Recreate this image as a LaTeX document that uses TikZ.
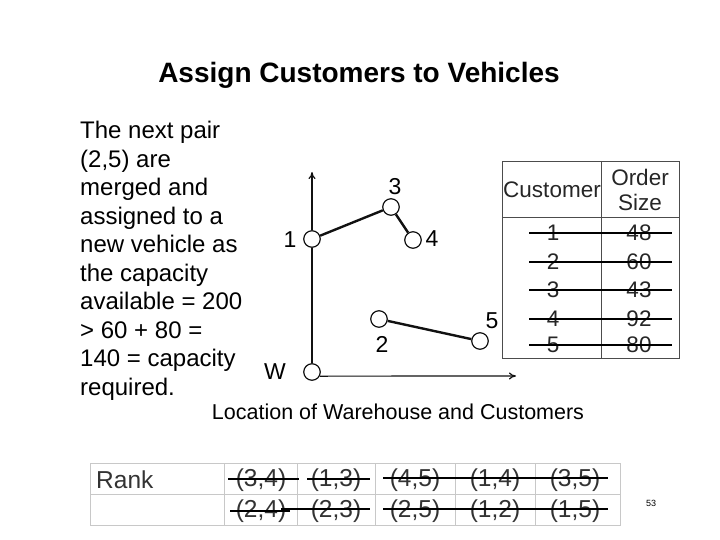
\documentclass[tikz,border=0pt]{standalone}
\usepackage{fontspec}
\setmainfont{Liberation Sans}
\usetikzlibrary{arrows.meta}
\definecolor{gridgray}{HTML}{C8C8C8}
\definecolor{ink}{HTML}{111111}

\begin{document}
\begin{tikzpicture}[
    x=1pt,y=-1pt,
    >={To[length=7pt,width=7pt]},
    body/.style={font=\fontsize{24}{28.5}\selectfont,align=left,
      anchor=north west,inner sep=0pt},
    site/.style={circle,draw=ink,line width=1.2pt,fill=white,
      minimum size=16.5pt,inner sep=0pt},
    num/.style={font=\fontsize{23}{23}\selectfont,inner sep=0pt},
    route/.style={line width=2.4pt,draw=ink},
    axis/.style={->,line width=1.2pt,draw=ink},
    cell/.style={font=\fontsize{22.5}{22.5}\selectfont,inner sep=0pt,text=black!85},
    pair/.style={font=\fontsize{24.5}{24.5}\selectfont,inner sep=0pt,text=black!80},
    strike/.style={line width=2.6pt,draw=black}]
    \useasboundingbox (0,0) rectangle (720,540);
    % title and explanation
    \node[font=\fontsize{28}{28}\selectfont\bfseries] (title) at (359,75)
      {Assign Customers to Vehicles};
    \node[body] (text) at (80,121) {The next pair\\(2,5) are\\merged and\\
      assigned to a\\new vehicle as\\the capacity\\available = 200\\
      > 60 + 80 =\\140 = capacity\\required.};
    % location plot
    \node[site] (w) at (312,372) {};
    \node[site] (c1) at (312,239) {};
    \node[site] (c3) at (391,207) {};
    \node[site] (c4) at (413,240) {};
    \node[site] (c2) at (379,319) {};
    \node[site] (c5) at (480,341) {};
    \coordinate (ytop) at (312,172);
    \coordinate (xend) at (516,376);
    \draw[axis] (c1) -- (ytop);
    \draw[line width=1.2pt,draw=ink] (w) -- (c1);
    \draw[axis] (w.-28) -- (xend);
    \draw[route] (c1) -- (c3);
    \draw[route] (c3) -- (c4);
    \draw[route] (c2) -- (c5);
    \node[num] (lw) at (275,372) {W};
    \node[num] (l1) at (290,240) {1};
    \node[num] (l3) at (395,187) {3};
    \node[num] (l4) at (432,239) {4};
    \node[num] (l2) at (382,344) {2};
    \node[num] (l5) at (492,321) {5};
    \node[font=\fontsize{21.5}{21.5}\selectfont] (caption) at (398,412)
      {Location of Warehouse and Customers};
    % order sizes
    \draw[line width=0.8pt,draw=black!70] (502,161) rectangle (679,358);
    \draw[line width=0.8pt,draw=black!70] (502,217) -- (679,217);
    \draw[line width=0.8pt,draw=black!70] (601,161) -- (601,358);
    \node[cell] (hcust) at (552,190) {Customer};
    \node[cell,align=center,font=\fontsize{22.5}{25}\selectfont] (hsize) at (640,190)
      {Order\\Size};
    \foreach \c/\q/\y in {1/48/233,2/60/262,3/43/290,4/92/319,5/80/345}{
      \node[cell] (cust\c) at (553,\y) {\c};
      \node[cell] (size\c) at (639,\y) {\q};
      \draw[strike] (529,\y) -- (672,\y);
    }
    % savings ranking
    \draw[draw=gridgray,line width=0.8pt] (90,463) rectangle (620,525);
    \draw[draw=gridgray,line width=0.8pt] (90,494) -- (620,494);
    \foreach \x in {224,297,375,455,535}
      \draw[draw=gridgray,line width=0.8pt] (\x,463) -- (\x,525);
    \node[pair,anchor=west] (rank) at (96,480) {Rank};
    \node[pair] (p34) at (261,480) {(3,4)};
    \node[pair] (p13) at (336,480) {(1,3)};
    \node[pair] (p45) at (415,480) {(4,5)};
    \node[pair] (p14) at (495,480) {(1,4)};
    \node[pair] (p35) at (575,480) {(3,5)};
    \node[pair] (p24) at (261,511) {(2,4)};
    \node[pair] (p23) at (336,511) {(2,3)};
    \node[pair] (p25) at (415,511) {(2,5)};
    \node[pair] (p12) at (495,511) {(1,2)};
    \node[pair] (p15) at (575,511) {(1,5)};
    \draw[strike] (228,479) -- (299,479);
    \draw[strike] (307,479) -- (370,479);
    \draw[strike] (383,478) -- (608,478);
    \draw[strike] (230,511) -- (290,511);
    \draw[strike] (281,509) -- (370,509);
    \draw[strike] (383,509) -- (608,509);
    \node[font=\fontsize{9}{9}\selectfont] (page) at (651,503) {53};
  \end{tikzpicture}
\end{document}
